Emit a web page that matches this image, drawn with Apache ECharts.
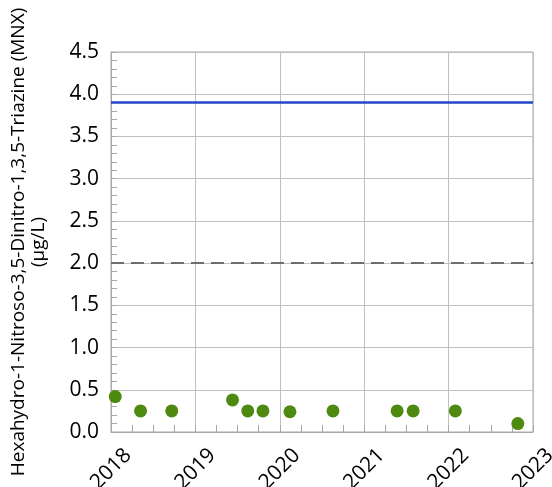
<!DOCTYPE html>
<html><head><meta charset="utf-8">
<script src="https://cdn.jsdelivr.net/npm/echarts@6/dist/echarts.min.js"></script>
<style>html,body{margin:0;padding:0;background:#fff}#c{width:552px;height:487px}</style>
</head><body><div id="c"></div>
<script>
// Sample dates as decimal years
const sampleYears = [2018.05, 2018.35, 2018.72, 2019.44, 2019.62, 2019.80, 2020.12, 2020.63, 2021.39, 2021.58, 2022.08, 2022.82];
const mnxValues   = [0.42, 0.25, 0.25, 0.38, 0.25, 0.25, 0.24, 0.25, 0.25, 0.25, 0.25, 0.10];
const blueLineValue = 3.9;
const dashedLineValue = 2.0;
const yTitle = 'Hexahydro-1-Nitroso-3,5-Dinitro-1,3,5-Triazine (MNX)\n(µg/L)';

const chart = echarts.init(document.getElementById('c'), null, {renderer: 'canvas'});
const font = 'Open Sans';
chart.setOption({
  animation: false,
  grid: {left: 111, right: 19, top: 52, bottom: 55, show: true, borderColor: '#a8a8a8', borderWidth: 1,
         containLabel: false, outerBoundsMode: 'none'},
  xAxis: {
    type: 'value', min: 2018, max: 2023, interval: 1,
    axisLine: {show: true, lineStyle: {color: '#a8a8a8', width: 1}},
    axisTick: {show: true, inside: true, length: 7, lineStyle: {color: '#a8a8a8'}},
    minorTick: {show: true, splitNumber: 4, length: 7, lineStyle: {color: '#a8a8a8'}},
    splitLine: {show: true, lineStyle: {color: '#c0c0c0', width: 1}},
    axisLabel: {rotate: 45, align: 'center', verticalAlign: 'middle', margin: 37,
      fontFamily: font, fontSize: 21, color: '#000', formatter: v => String(v)}
  },
  yAxis: {
    type: 'value', min: 0, max: 4.5, interval: 0.5,
    name: yTitle, nameLocation: 'middle', nameGap: 62, nameRotate: 90,
    nameTextStyle: {fontFamily: font, fontSize: 19, color: '#000', lineHeight: 20, align: 'center'},
    axisLine: {show: true, lineStyle: {color: '#a8a8a8', width: 1}},
    axisTick: {show: true, inside: true, length: 6, lineStyle: {color: '#a8a8a8'}},
    minorTick: {show: true, splitNumber: 5, length: 6, lineStyle: {color: '#a8a8a8'}},
    splitLine: {show: true, lineStyle: {color: '#c0c0c0', width: 1}},
    axisLabel: {margin: 12, fontFamily: font, fontSize: 21, color: '#000', formatter: v => v.toFixed(1)}
  },
  series: [{
    type: 'scatter',
    data: sampleYears.map((x, i) => [x, mnxValues[i]]),
    symbol: 'circle', symbolSize: 13,
    itemStyle: {color: '#4e8a10', opacity: 1},
    markLine: {
      silent: true, symbol: ['none', 'none'], label: {show: false},
      data: [
        {yAxis: blueLineValue, lineStyle: {color: '#2546c8', width: 2.5, type: 'solid'}},
        {yAxis: dashedLineValue, lineStyle: {color: '#6e6e6e', width: 2, type: [13, 7]}}
      ]
    },
    z: 5
  }]
});
</script></body></html>
